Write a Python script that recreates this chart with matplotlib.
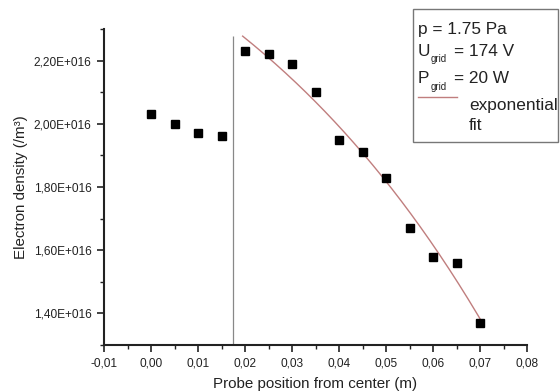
import numpy as np
import matplotlib
matplotlib.use("Agg")
import matplotlib.pyplot as plt
from matplotlib.ticker import FuncFormatter, MultipleLocator
from matplotlib.lines import Line2D
from matplotlib.patches import Rectangle

plt.rcParams['font.family'] = ['Liberation Sans', 'DejaVu Sans']

# ---- data ----
position_m = [0.000, 0.005, 0.010, 0.015, 0.020, 0.025, 0.030, 0.035,
              0.040, 0.045, 0.050, 0.055, 0.060, 0.065, 0.070]
density = [2.03e16, 2.00e16, 1.97e16, 1.96e16, 2.23e16, 2.22e16, 2.19e16, 2.10e16,
           1.95e16, 1.91e16, 1.83e16, 1.67e16, 1.58e16, 1.56e16, 1.37e16]

# exponential fit y = y0 - A*exp(x/t), drawn over [fit_start, fit_end]
fit_y0 = 3.091e16
fit_A = 0.611e16
fit_t = 0.0681
fit_start = 0.0195
fit_end = 0.070

# separator line
vline_x = 0.0175
vline_top = 2.277e16

legend_first = "p = 1.75 Pa"
legend_symbols = ["U", "P"]
legend_sub = "grid"
legend_values = ["= 174 V", "= 20 W"]
fit_label = ["exponential", "fit"]

xlim = (-0.01, 0.08)
ylim = (1.3e16, 2.3e16)

W, H = 560, 392
fig = plt.figure(figsize=(W / 100, H / 100), dpi=100)
ax = fig.add_axes([104 / W, 1 - 345 / H, 423 / W, 316 / H])

ax.plot(position_m, density, linestyle='none', marker='s', markersize=5.2,
        color='black', zorder=3)

xf = np.linspace(fit_start, fit_end, 200)
ax.plot(xf, fit_y0 - fit_A * np.exp(xf / fit_t), color='#c07e7e', linewidth=1.0, zorder=2)

ax.vlines(vline_x, ylim[0], vline_top, color='#888888', linewidth=0.9, zorder=1)

ax.set_xlim(*xlim)
ax.set_ylim(*ylim)

ax.spines['top'].set_visible(False)
ax.spines['right'].set_visible(False)
for s in ('left', 'bottom'):
    ax.spines[s].set_linewidth(1.5)
    ax.spines[s].set_color('#222222')

ax.xaxis.set_major_locator(MultipleLocator(0.01))
ax.xaxis.set_minor_locator(MultipleLocator(0.005))
ax.yaxis.set_major_locator(MultipleLocator(0.2e16))
ax.yaxis.set_minor_locator(MultipleLocator(0.1e16))


def xfmt(v, pos):
    return f"{v:.2f}".replace('.', ',').replace('-0,00', '0,00')


def yfmt(v, pos):
    if v == 0:
        return "0"
    e = int(np.floor(np.log10(abs(v)) + 1e-9))
    m = v / 10 ** e
    return f"{m:.2f}".replace('.', ',') + f"E+{e:03d}"


ax.xaxis.set_major_formatter(FuncFormatter(xfmt))
ax.yaxis.set_major_formatter(FuncFormatter(yfmt))
ax.tick_params(axis='both', which='major', direction='out', length=5, width=1.2,
               labelsize=8.6, color='#222222', labelcolor='#222222', pad=4)
ax.tick_params(axis='both', which='minor', direction='out', length=3, width=1.0,
               color='#222222')

ax.set_xlabel("Probe position from center (m)", fontsize=10.9, color='#222222')
ax.set_ylabel("Electron density (/m³)", fontsize=10.9, color='#222222')
ax.xaxis.set_label_coords(0.5, -0.1)
ax.yaxis.set_label_coords(-0.18, 0.5)

# ---- legend box ----
def fx(px):
    return px / W


def fy(py):
    return 1 - py / H


fig.patches.append(Rectangle((fx(413), fy(142)), fx(558) - fx(413), fy(9) - fy(142),
                             transform=fig.transFigure, fill=False,
                             edgecolor='#777777', linewidth=1.0))
LFS = 12.4
TC = '#222222'
fig.text(fx(418), fy(34), legend_first, fontsize=LFS, va='baseline', ha='left', color=TC)
for sym, val, b, sb in zip(legend_symbols, legend_values, [56, 83], [62, 90]):
    fig.text(fx(418), fy(b), sym, fontsize=LFS, va='baseline', ha='left', color=TC)
    fig.text(fx(431), fy(sb), legend_sub, fontsize=7, va='baseline', ha='left', color=TC)
    fig.text(fx(454), fy(b), val, fontsize=LFS, va='baseline', ha='left', color=TC)
fig.lines.append(Line2D([fx(418), fx(457)], [fy(97), fy(97)], transform=fig.transFigure,
                        color='#c07e7e', linewidth=1.0))
fig.text(fx(469), fy(110), fit_label[0], fontsize=LFS, va='baseline', ha='left', color=TC)
fig.text(fx(469), fy(130), fit_label[1], fontsize=LFS, va='baseline', ha='left', color=TC)

fig.savefig("out.png", dpi=100)
